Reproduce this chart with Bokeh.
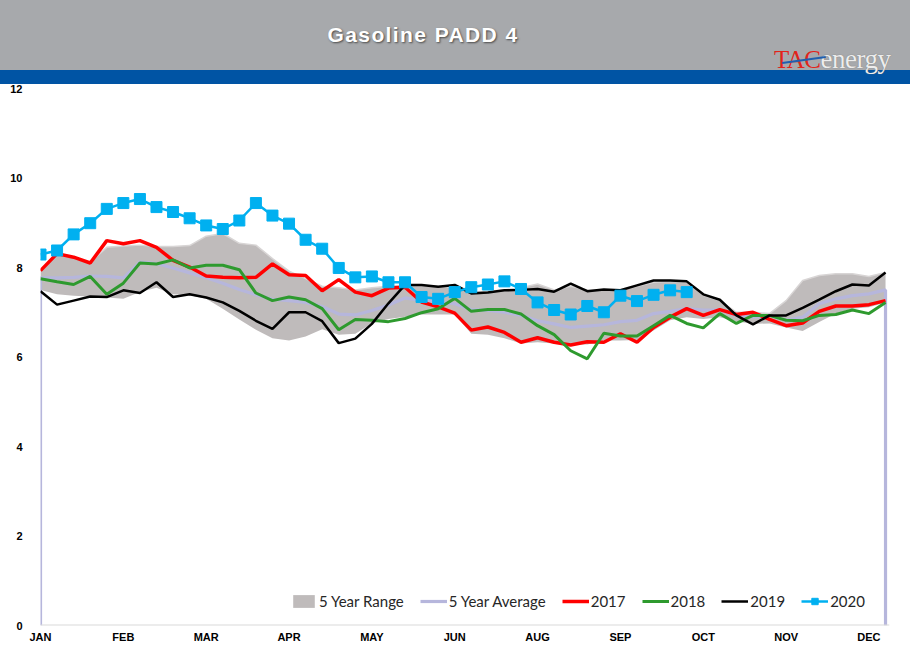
from bokeh.plotting import figure
from bokeh.models import Range1d, FixedTicker, Span, Div
from bokeh.layouts import column
from bokeh.embed import file_html
from bokeh.resources import INLINE

# ---------------- data ----------------
weeks = list(range(52))
month_pos = [0, 5, 10, 15, 20, 25, 30, 35, 40, 45, 50]
month_labels = ["JAN", "FEB", "MAR", "APR", "MAY", "JUN", "AUG", "SEP", "OCT", "NOV", "DEC"]
yticks = [0, 2, 4, 6, 8, 10, 12]

range_hi = [7.93, 8.30, 8.22, 8.12, 8.45, 8.48, 8.50, 8.47, 8.47, 8.49,
            8.70, 8.76, 8.54, 8.50, 8.20, 7.92, 7.75, 7.58, 7.55, 7.50,
            7.55, 7.58, 7.60, 7.60, 7.58, 7.55, 7.45, 7.47, 7.50, 7.55,
            7.63, 7.50, 7.58, 7.50, 7.49, 7.49, 7.58, 7.67, 7.69, 7.67,
            7.38, 7.26, 7.00, 7.00, 6.97, 7.26, 7.71, 7.82, 7.86, 7.86,
            7.80, 7.89]
range_lo = [7.50, 7.40, 7.37, 7.35, 7.33, 7.30, 7.45, 7.55, 7.40, 7.38,
            7.30, 7.08, 6.84, 6.61, 6.42, 6.37, 6.46, 6.62, 6.50, 6.52,
            6.75, 6.85, 6.90, 6.95, 6.95, 6.95, 6.52, 6.50, 6.42, 6.30,
            6.33, 6.30, 6.28, 6.28, 6.37, 6.37, 6.38, 6.59, 6.82, 6.89,
            6.85, 6.89, 6.80, 6.74, 6.75, 6.66, 6.58, 6.78, 6.97, 7.08,
            7.11, 7.22]
avg5 = [7.77, 7.77, 7.78, 7.81, 7.80, 7.77, 8.12, 8.09, 7.99, 7.88,
        7.77, 7.65, 7.51, 7.39, 7.29, 7.26, 7.22, 7.13, 6.96, 6.94,
        7.04, 7.16, 7.32, 7.26, 7.24, 7.19, 7.06, 7.04, 7.00, 6.93,
        6.81, 6.74, 6.66, 6.69, 6.72, 6.79, 6.82, 6.97, 7.02, 7.08,
        7.05, 7.05, 6.93, 6.89, 6.93, 6.82, 6.89, 7.19, 7.30, 7.37,
        7.41, 7.50]
y2017 = [7.93, 8.31, 8.23, 8.10, 8.60, 8.53, 8.60, 8.45, 8.16, 8.01,
         7.81, 7.78, 7.77, 7.78, 8.08, 7.84, 7.82, 7.48, 7.73, 7.45,
         7.37, 7.54, 7.56, 7.23, 7.12, 6.98, 6.60, 6.67, 6.55, 6.33,
         6.43, 6.33, 6.27, 6.34, 6.33, 6.52, 6.33, 6.66, 6.89, 7.08,
         6.93, 7.06, 6.95, 7.00, 6.84, 6.70, 6.76, 7.02, 7.14, 7.14,
         7.17, 7.26]
y2018 = [7.75, 7.68, 7.62, 7.80, 7.40, 7.65, 8.10, 8.08, 8.17, 7.99,
         8.05, 8.05, 7.95, 7.43, 7.26, 7.34, 7.28, 7.08, 6.61, 6.84,
         6.82, 6.79, 6.86, 6.99, 7.08, 7.31, 7.02, 7.06, 7.06, 6.96,
         6.70, 6.50, 6.14, 5.96, 6.53, 6.47, 6.47, 6.70, 6.93, 6.75,
         6.65, 6.97, 6.75, 6.93, 6.93, 6.82, 6.81, 6.93, 6.95, 7.05,
         6.97, 7.22]
y2019 = [7.47, 7.17, 7.26, 7.35, 7.34, 7.49, 7.43, 7.67, 7.34, 7.40,
         7.33, 7.22, 7.03, 6.81, 6.63, 7.00, 7.00, 6.80, 6.31, 6.41,
         6.74, 7.20, 7.61, 7.61, 7.57, 7.61, 7.42, 7.44, 7.49, 7.50,
         7.52, 7.46, 7.64, 7.47, 7.51, 7.49, 7.60, 7.71, 7.71, 7.69,
         7.40, 7.28, 6.93, 6.73, 6.93, 6.93, 7.10, 7.28, 7.47, 7.62,
         7.60, 7.89]
y2020 = [8.29, 8.38, 8.74, 8.99, 9.31, 9.44, 9.53, 9.35, 9.24, 9.10,
         8.94, 8.86, 9.05, 9.44, 9.16, 8.98, 8.62, 8.42, 7.99, 7.78,
         7.80, 7.67, 7.67, 7.34, 7.30, 7.45, 7.56, 7.62, 7.69, 7.52,
         7.22, 7.05, 6.95, 7.14, 7.00, 7.37, 7.25, 7.39, 7.49, 7.45]
weeks2020 = weeks[:len(y2020)]

title_text = "Gasoline PADD 4"

# ---------------- header (HTML block) ----------------
W = 910
header_html = (
    '<div style="position:relative;width:%dpx;height:84px;background:#A7A9AC;overflow:hidden;">'
    '<div style="position:absolute;left:0;top:70px;width:%dpx;height:14px;background:#0054A4;"></div>'
    '<div style="position:absolute;left:0;top:23px;width:846px;text-align:center;'
    'font-family:\'Liberation Sans\';font-weight:bold;font-size:21px;line-height:24px;'
    'letter-spacing:1.4px;color:#FFFFFF;text-shadow:1px 1px 2px #4A4A4A;">%s</div>'
    '<div style="position:absolute;left:774px;top:47px;line-height:24px;white-space:nowrap;'
    'font-family:\'Liberation Serif\';letter-spacing:-0.5px;">'
    '<span style="color:#E2231A;font-size:25px;">TAC</span>'
    '<span style="color:#EDEDED;font-size:27px;text-shadow:0 0 1px #6A6A6A;">energy</span></div>'
    '<div style="position:absolute;left:782px;top:59px;width:44px;height:2px;background:#1F5FAF;'
    'transform:rotate(-8deg);"></div>'
    '</div>'
) % (W, W, title_text)
header = Div(text=header_html, width=W, height=84, margin=0)

# ---------------- chart ----------------
p = figure(width=W, height=576, x_range=Range1d(0, 51.24), y_range=Range1d(0, 12),
           output_backend="svg", toolbar_location=None,
           min_border_left=40, min_border_right=21, min_border_top=4, min_border_bottom=35)
p.grid.visible = False
p.outline_line_color = None
p.background_fill_color = "white"
p.border_fill_color = "white"

p.varea(x=weeks, y1=range_lo, y2=range_hi, fill_color="#BFBBBB",
        legend_label="5 Year Range")
p.line(x=weeks, y=range_hi, line_color="#D8D5D5", line_width=1.5)
p.line(x=[weeks[0]] + weeks + [weeks[-1]], y=[0] + avg5 + [0],
       line_color="#B6B6DC", line_width=3.2, legend_label="5 Year Average")
p.line(x=weeks, y=y2017, line_color="#FF0000", line_width=3.5, legend_label="2017")
p.line(x=weeks, y=y2018, line_color="#2E9A2E", line_width=3, legend_label="2018")
p.line(x=weeks, y=y2019, line_color="#000000", line_width=2.5, legend_label="2019")
p.line(x=weeks2020, y=y2020, line_color="#00B0F0", line_width=2.5, legend_label="2020")
p.scatter(x=weeks2020, y=y2020, marker="square", size=11, fill_color="#00B0F0",
          line_color="#00B0F0", legend_label="2020")

p.add_layout(Span(location=0, dimension="width", line_color="#D9D9D9", line_width=2))

for ax in (p.xaxis[0], p.yaxis[0]):
    ax.axis_line_color = None
    ax.major_tick_line_color = None
    ax.minor_tick_line_color = None
    ax.major_tick_out = 0
    ax.major_tick_in = 0
    ax.minor_tick_out = 0
    ax.minor_tick_in = 0
    ax.major_label_text_font = "Liberation Sans"
    ax.major_label_text_font_style = "bold"
    ax.major_label_text_font_size = "11px"
    ax.major_label_text_color = "#000000"

p.yaxis.ticker = FixedTicker(ticks=yticks)
p.yaxis.major_label_standoff = 18
p.xaxis.ticker = FixedTicker(ticks=month_pos)
p.xaxis.major_label_overrides = {pos: lab for pos, lab in zip(month_pos, month_labels)}
p.xaxis.major_label_standoff = 5

lg = p.legend[0]
lg.orientation = "horizontal"
lg.location = (250, 15)
lg.background_fill_alpha = 0
lg.border_line_color = None
lg.glyph_width = 27
lg.glyph_height = 16
lg.label_height = 16
lg.label_standoff = 2
lg.spacing = 16
lg.padding = 4
lg.margin = 0
lg.label_text_font = "Lato"
lg.label_text_font_size = "15px"
lg.label_text_color = "#262626"

layout = column(header, p, spacing=0)
open("out.html", "w").write(file_html(layout, INLINE))
